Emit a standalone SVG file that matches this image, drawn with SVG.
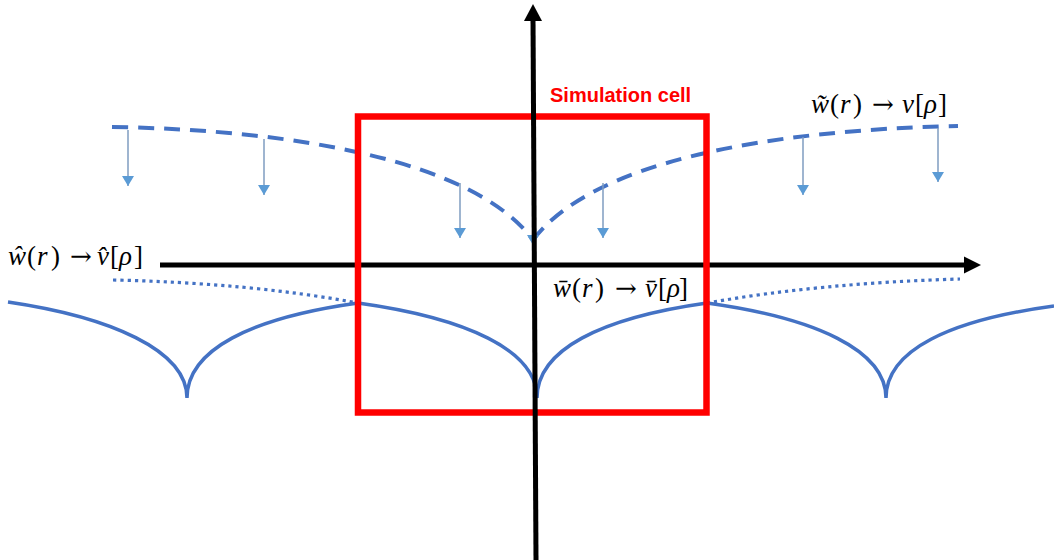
<svg xmlns="http://www.w3.org/2000/svg" width="1054" height="560" viewBox="0 0 1054 560">
<style>
.curve{fill:none;stroke:#4472c4;stroke-width:3.5}
.dash{stroke-width:4;stroke-dasharray:16 10}
.dot{stroke-width:3.2;stroke-dasharray:3.2 4}
.shaft{stroke:#7f9cc0;stroke-width:1.5;fill:none}
.axis{stroke:#000;stroke-width:5;fill:none}
.math{font-family:"Liberation Serif","DejaVu Serif",serif;font-size:27px;fill:#000}
.it{font-style:italic}
.arr{font-family:"DejaVu Serif",serif;font-size:26px}
.title{font-family:"Liberation Sans",Arial,sans-serif;font-weight:bold;font-size:20px;fill:#ff0000}
</style>
<defs>
<marker id="dn" markerUnits="userSpaceOnUse" markerWidth="11" markerHeight="12" refX="10" refY="6" orient="auto" viewBox="0 0 11 12">
<path d="M0,0 L10,6 L0,12 Z" fill="#5b9bd5"/>
</marker>
</defs>
<rect width="1054" height="560" fill="#fff"/>
<g id="curves">
<path id="w-tilde" class="curve dash" d="M112,127 C300,130 475,162 533,240 M533,240 C592,162 766,130 958,126"/>
<path id="w-bar" class="curve" d="M8,302 C110,317 187,350 187,398 C187,350 250,318 358,303 C466,318 537,350 537,398 C537,350 600,318 707,303 C815,318 886,350 886,398 C886,350 950,320 1054,306"/>
<path id="w-hat" class="curve dot" d="M113,280 Q250,283 358,303 M707,303 Q820,283 960,279"/>
</g>
<g id="connectors">
<line class="shaft" x1="128" y1="130" x2="128" y2="186" marker-end="url(#dn)"/>
<line class="shaft" x1="264" y1="139" x2="264" y2="195" marker-end="url(#dn)"/>
<line class="shaft" x1="460" y1="183" x2="460" y2="238" marker-end="url(#dn)"/>
<line class="shaft" x1="533" y1="228" x2="533" y2="245" marker-end="url(#dn)"/>
<line class="shaft" x1="603" y1="183" x2="603" y2="238" marker-end="url(#dn)"/>
<line class="shaft" x1="803" y1="137" x2="803" y2="195" marker-end="url(#dn)"/>
<line class="shaft" x1="938" y1="128" x2="938" y2="182" marker-end="url(#dn)"/>
</g>
<g id="x-axis">
<line class="axis" x1="160" y1="265" x2="966" y2="265"/>
<path d="M964,256.5 L981,265 L964,273.5 Z" fill="#000"/>
</g>
<g id="simulation-cell">
<rect x="358" y="116.5" width="348.5" height="296" fill="none" stroke="#ff0000" stroke-width="6.5"/>
<text class="title" x="550" y="102">Simulation cell</text>
</g>
<g id="y-axis">
<line class="axis" x1="536" y1="560" x2="533" y2="18"/>
<path d="M524,21 L533,4 L542,21 Z" fill="#000"/>
</g>
<g id="label-tilde">
<text class="math" y="113"><tspan class="it" x="811">w̃</tspan><tspan x="830">(</tspan><tspan class="it" x="840">r</tspan><tspan x="853">)</tspan><tspan class="arr" x="872">→</tspan><tspan class="it" x="902">v</tspan><tspan x="915">[</tspan><tspan class="it" x="924">ρ</tspan><tspan x="938">]</tspan></text>
</g>
<g id="label-hat">
<text class="math" y="265"><tspan class="it" x="8">ŵ</tspan><tspan x="27">(</tspan><tspan class="it" x="37">r</tspan><tspan x="51">)</tspan><tspan class="arr" x="70">→</tspan><tspan class="it" x="97">v̂</tspan><tspan x="110">[</tspan><tspan class="it" x="119">ρ</tspan><tspan x="134">]</tspan></text>
</g>
<g id="label-bar">
<text class="math" y="297"><tspan class="it" x="553">w̄</tspan><tspan x="572">(</tspan><tspan class="it" x="582">r</tspan><tspan x="595">)</tspan><tspan class="arr" x="615">→</tspan><tspan class="it" x="645">v̄</tspan><tspan x="658">[</tspan><tspan class="it" x="667">ρ</tspan><tspan x="679">]</tspan></text>
</g>
</svg>
